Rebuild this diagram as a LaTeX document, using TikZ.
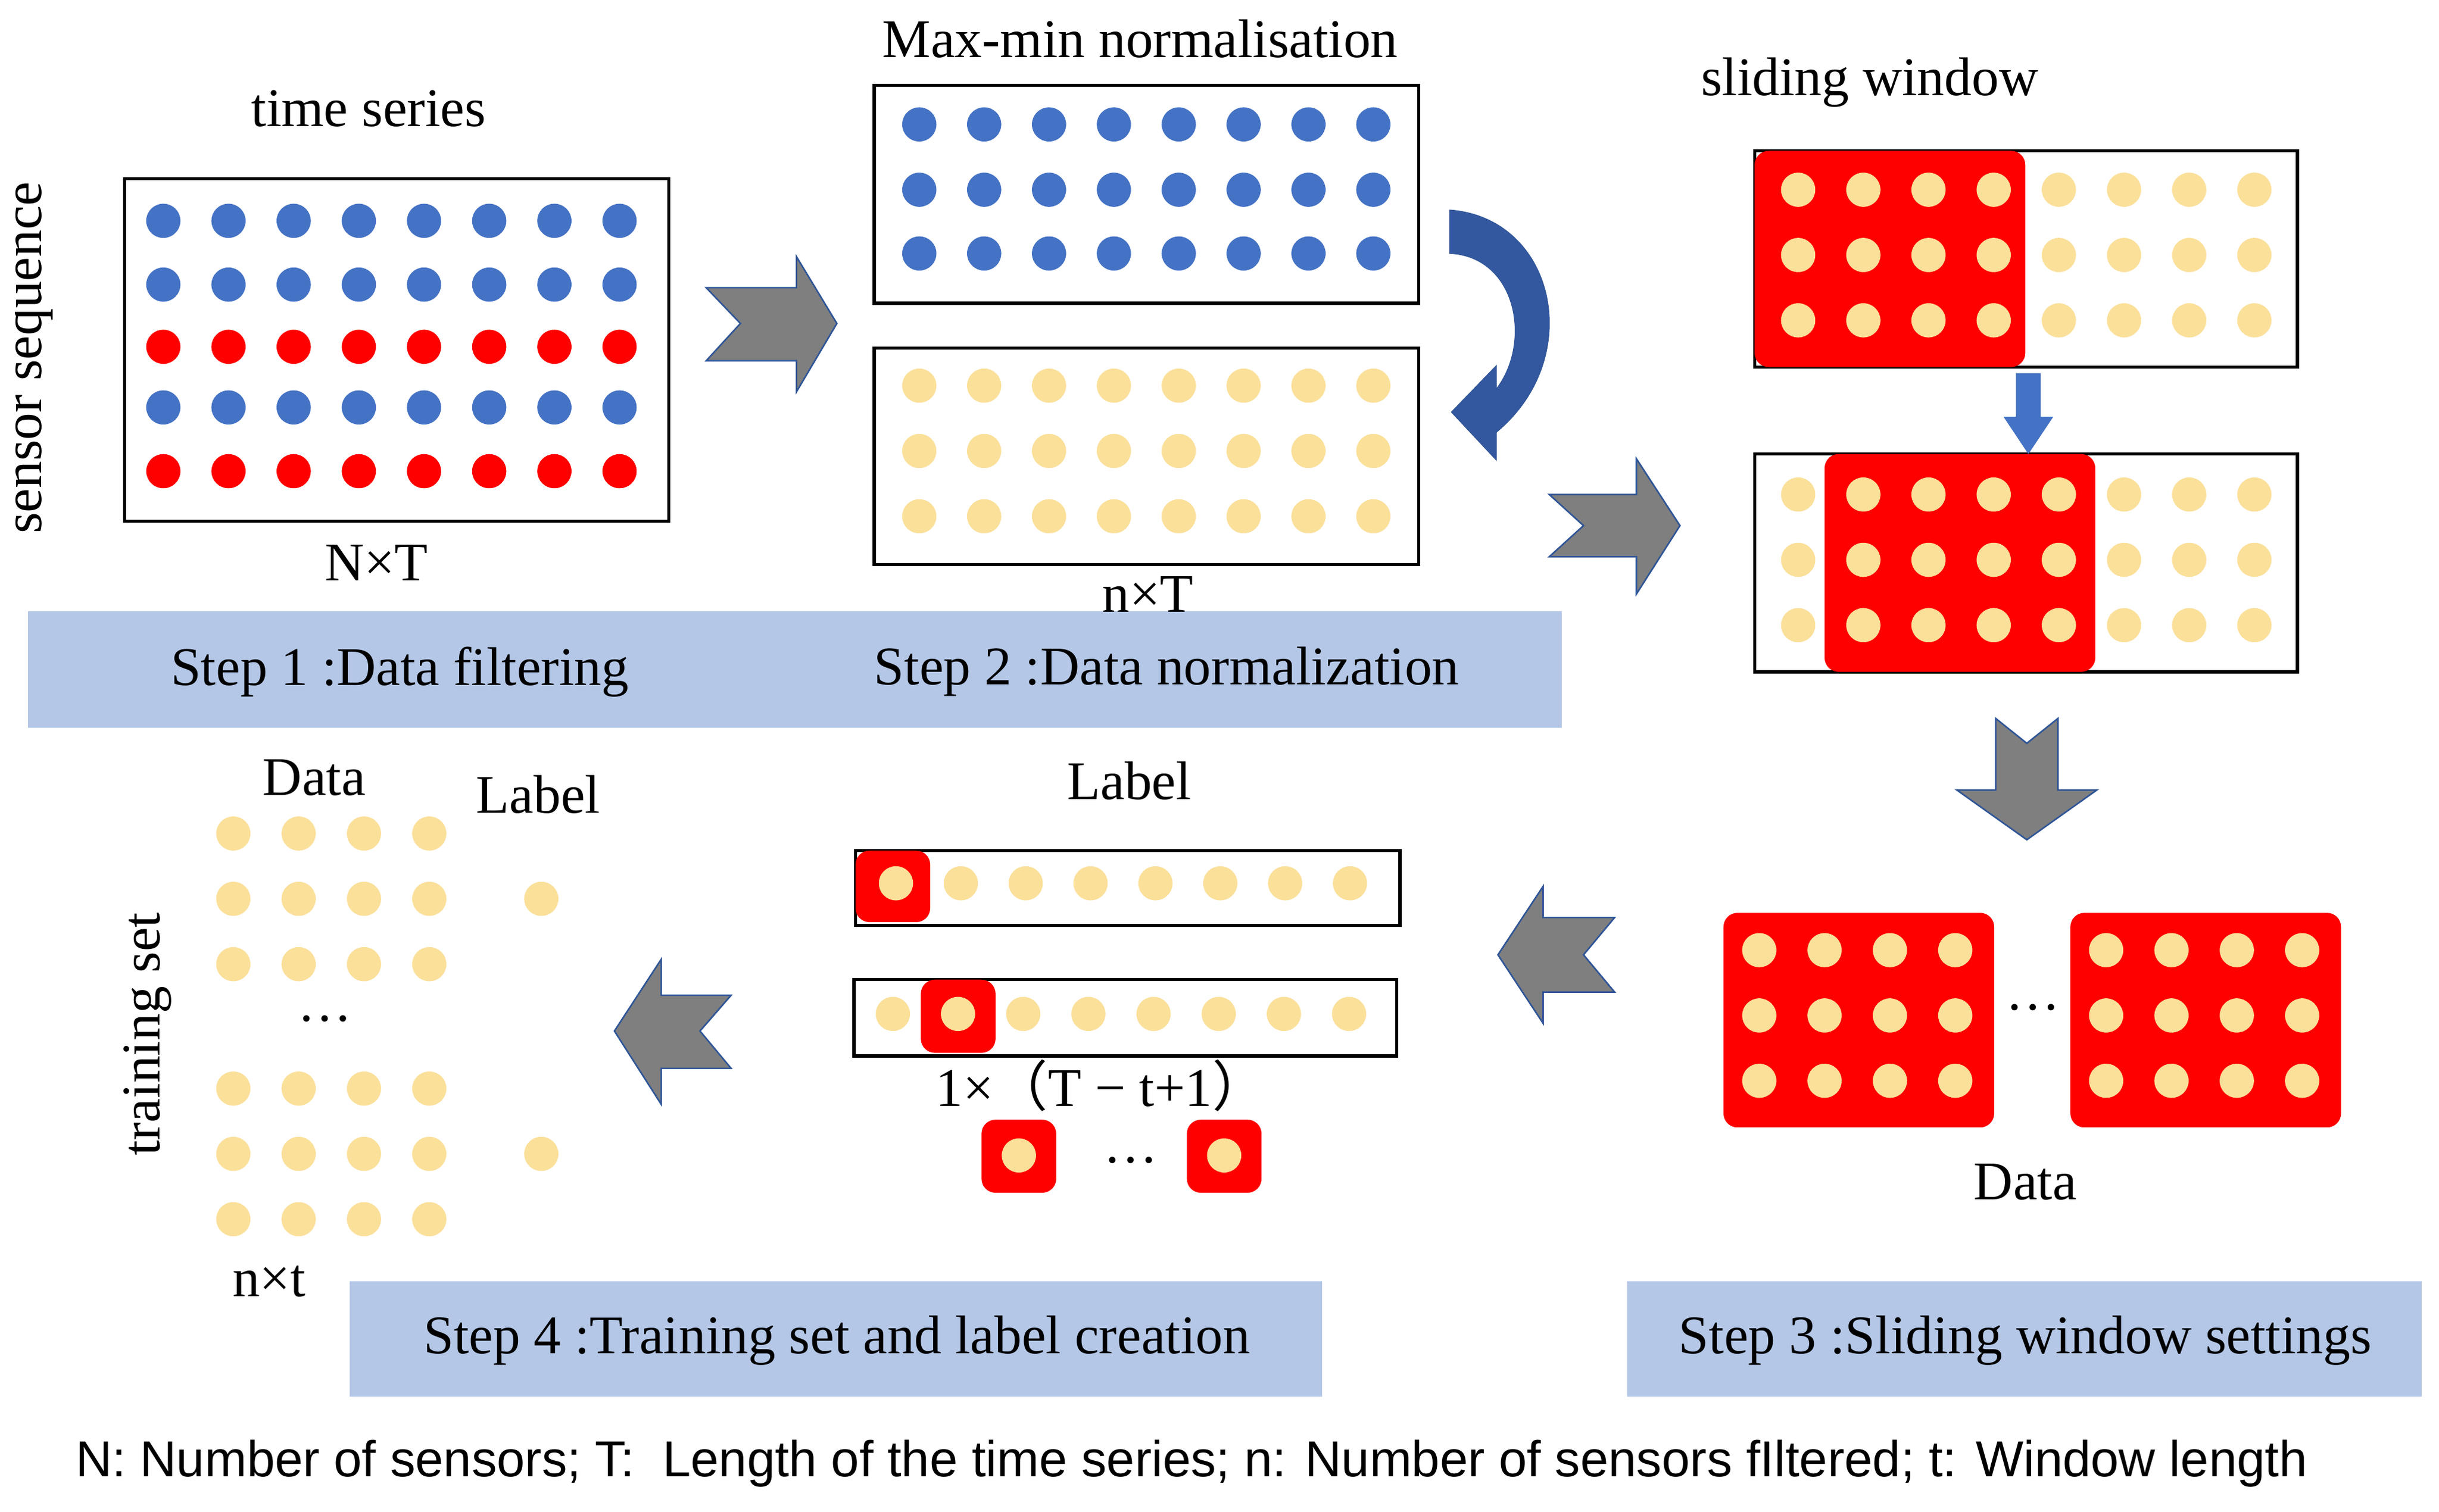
\documentclass[tikz,border=0pt]{standalone}
\usepackage{fontspec}
\setmainfont{Liberation Serif}
\setsansfont{Liberation Sans}
\newfontfamily\cjk{Noto Sans CJK SC}
\begin{document}
\begin{tikzpicture}[x=1pt,y=-1pt,
  txt/.style={font=\fontsize{35}{42}\selectfont,inner sep=0pt},
  box/.style={draw=black,line width=2pt},
  band/.style={fill=bandc,draw=none},
  bd/.style={fill=blued},
  rd/.style={fill=redd},
  yd/.style={fill=yell},
  rr/.style={fill=redd,rounded corners=9pt},
  garrow/.style={fill=arrg,draw=arrb,line width=1pt}]
\definecolor{blued}{HTML}{4472C4}
\definecolor{redd}{HTML}{FF0000}
\definecolor{yell}{HTML}{FBE09A}
\definecolor{bandc}{HTML}{B4C7E7}
\definecolor{arrg}{HTML}{7F7F7F}
\definecolor{arrb}{HTML}{2F5597}
\definecolor{darkb}{HTML}{34589F}
\useasboundingbox (0,0) rectangle (1568,972);
\fill[white] (0,0) rectangle (1568,972);
% bands
\fill[band] (18,393) rectangle (1004,468);
\fill[band] (225,824) rectangle (850,898);
\fill[band] (1046,824) rectangle (1557,898);
\node[txt] (s1) at (257,432) {Step 1 :Data filtering};
\node[txt] (s2) at (750,432) {Step 2 :Data normalization};
\node[txt] (s3) at (1302,862) {Step 3 :Sliding window settings};
\node[txt] (s4) at (538,862) {Step 4 :Training set and label creation};
% Step 1
\node[txt,rotate=90] (ss) at (22,230) {sensor sequence};
\node[txt] (ts) at (237,70) {time series};
\draw[box] (80,115) rectangle (430,335);
\foreach \i in {0,...,7}{
  \foreach \y/\s in {142/bd,183/bd,223/rd,262/bd,303/rd}{
    \fill[\s] (105+41.9*\i,\y) circle (11);}}
\node[txt] (nt) at (242,362) {N×T};
\draw[garrow] (454,185)--(512,185)--(512,165)--(538,208)--(512,252)--(512,232)--(454,232)--(476,208)--cycle;
% Step 2
\node[txt] (mm) at (733,25) {Max-min normalisation};
\draw[box] (562,55) rectangle (912,195);
\draw[box] (562,224) rectangle (912,363);
\foreach \i in {0,...,7}{
  \foreach \y in {80,122,163}{\fill[bd] (591+41.7*\i,\y) circle (11);}
  \foreach \y in {248,290,332}{\fill[yd] (591+41.7*\i,\y) circle (11);}}
\node[txt] (nt2) at (738,382) {n×T};
\fill[darkb,draw=arrb] (932,135) .. controls (1000,140) and (1020,230) .. (962,278)
  -- (962,296) -- (933,265) -- (962,235) -- (962,250)
  .. controls (985,220) and (975,165) .. (932,163) -- cycle;
\draw[garrow] (996,318)--(1052,318)--(1052,295)--(1080,338)--(1052,382)--(1052,358)--(996,358)--(1018,338)--cycle;
% Step 3
\node[txt] (sw) at (1202,53) {sliding window};
\draw[box] (1128,97) rectangle (1477,236);
\fill[rr] (1128,97) rectangle (1302,236);
\draw[box] (1128,292) rectangle (1477,432);
\fill[rr] (1173,292) rectangle (1347,432);
\foreach \i in {0,...,7}{
  \foreach \y in {122,164,206,318,360,402}{\fill[yd] (1156+41.9*\i,\y) circle (11);}}
\fill[blued] (1296,240)--(1312,240)--(1312,268)--(1320,268)--(1304,292)--(1288,268)--(1296,268)--cycle;
\draw[garrow] (1283,462)--(1303,478)--(1323,462)--(1323,508)--(1348,508)--(1303,540)--(1258,508)--(1283,508)--cycle;
\fill[rr] (1108,587) rectangle (1282,725);
\fill[rr] (1331,587) rectangle (1505,725);
\foreach \i in {0,...,3}{
  \foreach \y in {611,653,695}{
    \fill[yd] (1131+42*\i,\y) circle (11);
    \fill[yd] (1354+42*\i,\y) circle (11);}}
\node[txt] (dd3) at (1307,648) {…};
\node[txt] (data3) at (1302,760) {Data};
\draw[garrow] (1038,590)--(992,590)--(992,570)--(963,614)--(992,658)--(992,638)--(1038,638)--(1018,614)--cycle;
% Label area
\node[txt] (lab) at (726,502) {Label};
\draw[box] (550,547) rectangle (900,595);
\fill[rr] (550,547) rectangle (598,593);
\draw[box] (549,630) rectangle (898,679);
\fill[rr] (592,630) rectangle (640,677);
\foreach \i in {0,...,7}{
  \fill[yd] (576+41.7*\i,568) circle (11);
  \fill[yd] (574+41.9*\i,652) circle (11);}
\node[txt] (lt) at (708,698) {1×{\cjk （}T − t+1{\cjk ）}};
\fill[rr] (631,720) rectangle (679,767);
\fill[rr] (763,720) rectangle (811,767);
\fill[yd] (655,743) circle (11);
\fill[yd] (787,743) circle (11);
\node[txt] (dd2) at (727,746) {…};
\draw[garrow] (470,640)--(425,640)--(425,617)--(395,663)--(425,710)--(425,687)--(470,687)--(450,663)--cycle;
% Step 4
\node[txt] (data4) at (202,500) {Data};
\node[txt] (lab4) at (346,511) {Label};
\foreach \i in {0,...,3}{
  \foreach \y in {536,578,620,700,742,784}{\fill[yd] (150+42*\i,\y) circle (11);}}
\fill[yd] (348,578) circle (11);
\fill[yd] (348,742) circle (11);
\node[txt] (dd4) at (209,655) {…};
\node[txt,rotate=90] (tset) at (95,665) {training set};
\node[txt] (nt4) at (173,824) {n×t};
% bottom
\node[inner sep=0pt,font=\sffamily\fontsize{32.5}{39}\selectfont] (foot) at (766,941) {N: Number of sensors; T:\ \ Length of the time series; n: Number of sensors fIltered; t: Window length};
\end{tikzpicture}
\end{document}
